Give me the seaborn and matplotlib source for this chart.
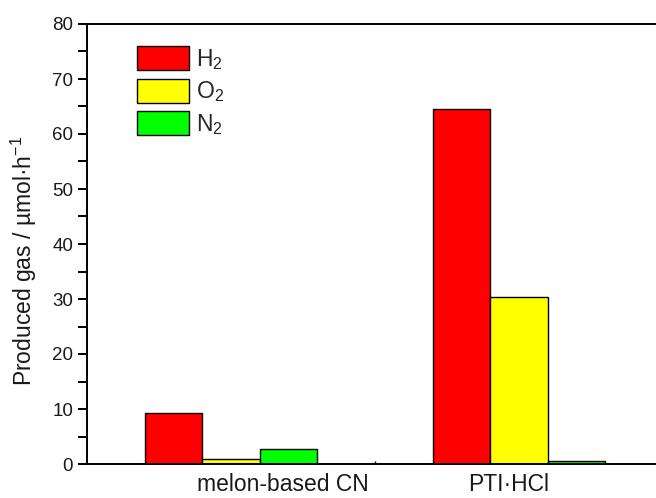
import matplotlib
matplotlib.use("Agg")
import matplotlib.pyplot as plt
import matplotlib.transforms as mtransforms
from matplotlib.patches import Patch
from matplotlib.ticker import MultipleLocator
import pandas as pd
import seaborn as sns

# Gas evolution rates per photocatalyst
samples = ["melon-based CN", "PTI·HCl"]
gases = ["H2", "O2", "N2"]
h2_rate = [9.3, 64.6]
o2_rate = [1.0, 30.4]
n2_rate = [2.8, 0.6]

gas_labels = ["H$_2$", "O$_2$", "N$_2$"]
gas_colors = ["#ff0000", "#ffff00", "#00ff00"]

rows = []
for i, s in enumerate(samples):
    for g, vals in zip(gases, [h2_rate, o2_rate, n2_rate]):
        rows.append({"sample": s, "gas": g, "rate": vals[i]})
df = pd.DataFrame(rows)

sns.set_theme(style="white")
plt.rcParams["font.family"] = ["Liberation Sans", "DejaVu Sans"]
plt.rcParams["mathtext.fontset"] = "custom"
plt.rcParams["mathtext.rm"] = "Liberation Sans"
plt.rcParams["mathtext.it"] = "Liberation Sans:italic"
plt.rcParams["mathtext.bf"] = "Liberation Sans:bold"

fig = plt.figure(figsize=(6.56, 4.98), dpi=100)
ax = fig.add_axes([87 / 656, 34 / 498, (656 - 87) / 656, 440 / 498])

order = [samples[0], " ", samples[1]]
sns.barplot(data=df, x="sample", y="rate", hue="gas", order=order,
            hue_order=gases, palette=gas_colors, width=1.2,
            edgecolor="black", linewidth=1.0, saturation=1,
            legend=False, ax=ax, errorbar=None)

ax.set_xlim(-1.0, 2.951)
ax.set_ylim(0, 80)
ax.yaxis.set_major_locator(MultipleLocator(10))
ax.yaxis.set_minor_locator(MultipleLocator(5))

for side in ["left", "bottom", "top"]:
    ax.spines[side].set_visible(True)
    ax.spines[side].set_color("black")
    ax.spines[side].set_linewidth(1.4)
ax.spines["right"].set_visible(False)

ax.tick_params(axis="y", which="both", direction="out", length=6.5,
               width=1.4, color="black", labelsize=13.5, pad=3.5,
               left=True, labelcolor="#1a1a1a")
ax.tick_params(axis="x", which="major", direction="in", length=2,
               width=1.0, color="black", labelsize=16.5, pad=6.5,
               bottom=True, labelcolor="#1a1a1a")

ax.set_xlabel("")
ax.set_ylabel("Produced gas / µmol·h$^{-1}$", fontsize=16.5, color="#1a1a1a")
ax.yaxis.set_label_coords(-0.084, 0.461)

# shift the sample names slightly off their tick positions
shifts = [52, 0, -10]
for lab, dx in zip(ax.get_xticklabels(), shifts):
    lab.set_transform(lab.get_transform() +
                      mtransforms.ScaledTranslation(dx / 100, 0, fig.dpi_scale_trans))

handles = [Patch(facecolor=c, edgecolor="black", linewidth=1.0) for c in gas_colors]
ax.legend(handles, gas_labels, loc="upper left",
          bbox_to_anchor=(137 / 656, 1 - 46 / 498), bbox_transform=fig.transFigure,
          frameon=False, fontsize=16.5, handlelength=2.26, handleheight=1.25,
          handletextpad=0.32, labelspacing=0.3, borderpad=0, borderaxespad=0)

fig.savefig("out.png", dpi=100)
